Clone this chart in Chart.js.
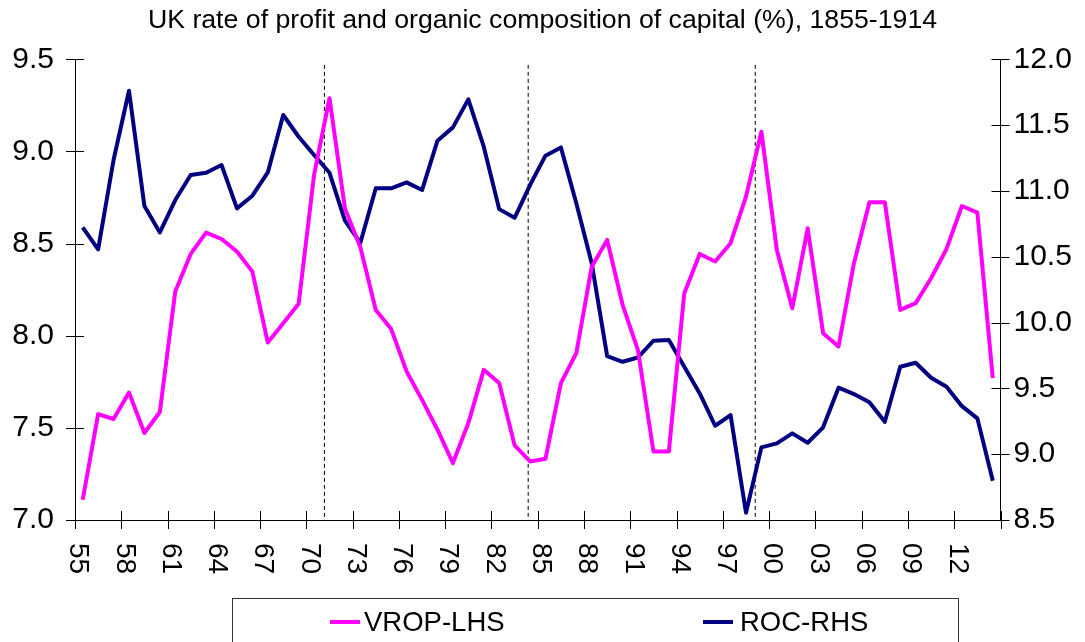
<!DOCTYPE html>
<html>
<head>
<meta charset="utf-8">
<script src="https://cdn.jsdelivr.net/npm/chart.js@4"></script>
<style>
  html, body { margin: 0; padding: 0; background: #fff; }
  #wrap { width: 1085px; height: 642px; position: relative; }
</style>
</head>
<body>
<div id="wrap"><canvas id="c" width="1085" height="642"></canvas></div>
<script>
const years = [1855,1856,1857,1858,1859,1860,1861,1862,1863,1864,1865,1866,1867,1868,1869,1870,1871,1872,1873,1874,1875,1876,1877,1878,1879,1880,1881,1882,1883,1884,1885,1886,1887,1888,1889,1890,1891,1892,1893,1894,1895,1896,1897,1898,1899,1900,1901,1902,1903,1904,1905,1906,1907,1908,1909,1910,1911,1912,1913,1914];
const vrop = [7.11,7.575,7.548,7.692,7.472,7.586,8.24,8.444,8.56,8.525,8.457,8.348,7.963,8.068,8.173,8.873,9.289,8.69,8.48,8.14,8.036,7.806,7.652,7.49,7.309,7.526,7.815,7.743,7.405,7.318,7.332,7.743,7.906,8.375,8.52,8.168,7.92,7.372,7.372,8.231,8.444,8.403,8.502,8.755,9.107,8.466,8.149,8.583,8.014,7.942,8.394,8.725,8.725,8.14,8.177,8.312,8.471,8.704,8.668,7.77];
const roc = [10.723,10.556,11.235,11.761,10.885,10.685,10.931,11.121,11.138,11.197,10.868,10.964,11.141,11.577,11.412,11.273,11.138,10.774,10.606,11.02,11.02,11.065,11.007,11.382,11.483,11.696,11.336,10.862,10.796,11.045,11.268,11.331,10.906,10.45,9.745,9.702,9.735,9.862,9.867,9.664,9.462,9.216,9.297,8.555,9.052,9.082,9.158,9.087,9.204,9.505,9.457,9.394,9.246,9.664,9.695,9.581,9.512,9.365,9.272,8.798];
const xTickLabels = ['55','58','61','64','67','70','73','76','79','82','85','88','91','94','97','00','03','06','09','12'];
const breakYears = [1870.67, 1883.88, 1898.6];
const seriesNames = ['VROP-LHS', 'ROC-RHS'];
const seriesColors = ['#FF00FF', '#000080'];
const title = 'UK rate of profit and organic composition of capital (%), 1855-1914';

const FONT = '"Liberation Sans", Arial, sans-serif';
const xMin = years[0] - 0.5, xMax = years[years.length - 1] + 0.5;
const xTickValues = [];
for (let v = xMin; v <= xMax + 1e-9; v += 3) xTickValues.push(v);

const decor = {
  id: 'decor',
  beforeDatasetsDraw(chart) {
    const {ctx, chartArea: a, scales} = chart;
    ctx.save();
    ctx.strokeStyle = '#000';
    ctx.lineWidth = 1;
    ctx.setLineDash([4, 3]);
    const topY = scales.y.getPixelForValue(9.47);
    breakYears.forEach(b => {
      const px = scales.x.getPixelForValue(b);
      ctx.beginPath(); ctx.moveTo(px, topY); ctx.lineTo(px, a.bottom); ctx.stroke();
    });
    ctx.restore();
  },
  afterDraw(chart) {
    const {ctx, chartArea: a, scales} = chart;
    ctx.save();
    ctx.strokeStyle = '#000';
    ctx.lineWidth = 1;
    ctx.setLineDash([]);
    [[scales.y, a.left], [scales.y1, a.right]].forEach(([s, ax]) => {
      s.ticks.forEach(t => {
        const py = Math.round(s.getPixelForValue(t.value)) + 0.5;
        ctx.beginPath(); ctx.moveTo(ax - 9, py); ctx.lineTo(ax + 9, py); ctx.stroke();
      });
    });
    scales.x.ticks.forEach(t => {
      const px = Math.round(scales.x.getPixelForValue(t.value)) + 0.5;
      ctx.beginPath(); ctx.moveTo(px, a.bottom - 9); ctx.lineTo(px, a.bottom + 9); ctx.stroke();
    });
    // rotated x labels (reading top to bottom)
    ctx.fillStyle = '#000';
    ctx.font = '28px ' + FONT;
    ctx.textAlign = 'left';
    ctx.textBaseline = 'middle';
    xTickLabels.forEach((lab, i) => {
      const px = scales.x.getPixelForValue(xTickValues[i]);
      ctx.save();
      ctx.translate(px + 3, a.bottom + 23);
      ctx.rotate(Math.PI / 2);
      ctx.fillText(lab, 0, 0);
      ctx.restore();
    });
    // legend box
    const bx = 232, by = 598.5, bw = 726, bh = 70;
    ctx.strokeStyle = '#333';
    ctx.lineWidth = 1;
    ctx.strokeRect(bx + 0.5, by, bw, bh);
    const entries = [{sx: 330, tx: 364}, {sx: 703, tx: 740}];
    ctx.font = '27.5px ' + FONT;
    ctx.textBaseline = 'middle';
    chart.data.datasets.forEach((ds, i) => {
      const e = entries[i];
      ctx.strokeStyle = ds.borderColor;
      ctx.lineWidth = 4;
      ctx.beginPath(); ctx.moveTo(e.sx, 622); ctx.lineTo(e.sx + 30, 622); ctx.stroke();
      ctx.fillStyle = '#000';
      ctx.fillText(ds.label, e.tx, 623);
    });
    ctx.restore();
  }
};

new Chart(document.getElementById('c'), {
  type: 'line',
  data: {
    datasets: [
      {
        label: seriesNames[0],
        data: years.map((y, i) => ({x: y, y: vrop[i]})),
        borderColor: seriesColors[0],
        backgroundColor: seriesColors[0],
        borderWidth: 4,
        borderJoinStyle: 'round',
        borderCapStyle: 'butt',
        pointRadius: 0,
        tension: 0,
        yAxisID: 'y'
      },
      {
        label: seriesNames[1],
        data: years.map((y, i) => ({x: y, y: roc[i]})),
        borderColor: seriesColors[1],
        backgroundColor: seriesColors[1],
        borderWidth: 4,
        borderJoinStyle: 'round',
        borderCapStyle: 'butt',
        pointRadius: 0,
        tension: 0,
        yAxisID: 'y1'
      }
    ]
  },
  options: {
    responsive: false,
    animation: false,
    devicePixelRatio: 1,
    layout: { padding: 0 },
    plugins: {
      legend: { display: false },
      tooltip: { enabled: false },
      title: {
        display: true,
        text: title,
        color: '#000',
        font: { family: FONT, size: 26.7, weight: 'normal', lineHeight: 1.2 },
        padding: { top: 5, bottom: 22.3 }
      }
    },
    scales: {
      x: {
        type: 'linear',
        min: xMin,
        max: xMax,
        afterBuildTicks: s => { s.ticks = xTickValues.map(v => ({value: v})); },
        afterFit: s => { s.height = 122; },
        grid: { display: false, drawTicks: false },
        border: { display: true, color: '#000', width: 1 },
        ticks: { display: false }
      },
      y: {
        position: 'left',
        min: 7.0, max: 9.5,
        afterFit: s => { s.width = 75; },
        grid: { display: false, drawTicks: false },
        border: { display: true, color: '#000', width: 1 },
        ticks: {
          stepSize: 0.5, padding: 21, color: '#000',
          font: { family: FONT, size: 30 },
          callback: v => v.toFixed(1)
        }
      },
      y1: {
        position: 'right',
        min: 8.5, max: 12.0,
        afterFit: s => { s.width = 84.5; },
        grid: { display: false, drawTicks: false },
        border: { display: true, color: '#000', width: 1 },
        ticks: {
          stepSize: 0.5, padding: 13, color: '#000',
          font: { family: FONT, size: 30 },
          callback: v => v.toFixed(1)
        }
      }
    }
  },
  plugins: [decor]
});
</script>
</body>
</html>
